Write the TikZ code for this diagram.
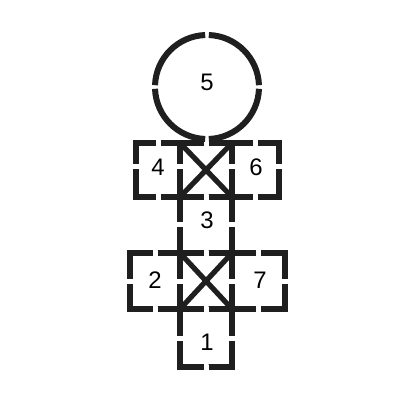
\documentclass[tikz,border=0pt]{standalone}
\usepackage{fontspec}
\setmainfont{Liberation Sans}

% one square with a gap in the middle of every side
\newcommand{\hopsquare}[5]{%
  \draw[hopline] ({(#1+#3)/2-2.5},#2) -- (#1,#2) -- (#1,{#5-2.5});
  \draw[hopline] ({(#1+#3)/2+2.5},#2) -- (#3,#2) -- (#3,{#5-2.5});
  \draw[hopline] ({(#1+#3)/2-2.5},#4) -- (#1,#4) -- (#1,{#5+2.5});
  \draw[hopline] ({(#1+#3)/2+2.5},#4) -- (#3,#4) -- (#3,{#5+2.5});
}

\begin{document}
\begin{tikzpicture}[x=0.025cm,y=-0.025cm,
    hopline/.style={line width=0.15cm,black!88,line join=miter},
    hopnum/.style={font=\fontsize{17}{19}\selectfont,black}]
    \useasboundingbox (0,0) rectangle (416,416);
    % circle on top, four gaps
    \foreach \a in {0,90,180,270}
    \draw[hopline] ([shift={(\a+2:52)}]207,87) arc[start angle=\a+2,end angle=\a+88,radius=52];
    % upper row
    \foreach \xa/\xb in {136/180,180/232,232/279}
    \hopsquare{\xa}{143}{\xb}{197}{166}
    \hopsquare{180}{197}{232}{253}{224}
    % lower row
    \foreach \xa/\xb in {130/180,180/232,232/285}
    \hopsquare{\xa}{253}{\xb}{309}{281}
    \hopsquare{180}{309}{232}{367}{338}
    % crosses
    \coordinate (ua) at (180,143);
    \coordinate (ub) at (232,143);
    \coordinate (uc) at (180,197);
    \coordinate (ud) at (232,197);
    \coordinate (la) at (180,253);
    \coordinate (lb) at (232,253);
    \coordinate (lc) at (180,309);
    \coordinate (ld) at (232,309);
    \draw[hopline,line width=0.13cm] (ua) -- (ud) (ub) -- (uc);
    \draw[hopline,line width=0.13cm] (la) -- (ld) (lb) -- (lc);
    % numbers
    \node[hopnum] (n5) at (207,82) {5};
    \node[hopnum] (n4) at (158,167) {4};
    \node[hopnum] (n6) at (256,167) {6};
    \node[hopnum] (n3) at (207,220) {3};
    \node[hopnum] (n2) at (155,280) {2};
    \node[hopnum] (n7) at (260,280) {7};
    \node[hopnum] (n1) at (207,342) {1};
  \end{tikzpicture}
\end{document}
